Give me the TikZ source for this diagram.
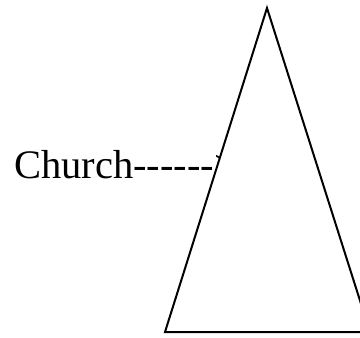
\documentclass[tikz,border=0pt]{standalone}
\usepackage{fontspec}
\setmainfont{Liberation Serif}[Ligatures=ResetAll]
\begin{document}
\begin{tikzpicture}[x=1pt,y=-1pt,
  lbl/.style={inner sep=0pt, anchor=base west, font=\fontsize{40.5}{44}\selectfont},
  tri/.style={draw=black, fill=white, line width=2pt, line join=miter}]
\useasboundingbox (0,0) rectangle (360,338);
\node[lbl] (church) at (14,178) {Church-{}-{}-{}-{}-{}->};
\coordinate (apex) at (267,8);
\coordinate (bl) at (165,332);
\coordinate (br) at (370,332);
\begin{scope}
\clip (0,0) rectangle (360,338);
\draw[tri] (apex) -- (bl) -- (br) -- cycle;
\end{scope}
\end{tikzpicture}
\end{document}
